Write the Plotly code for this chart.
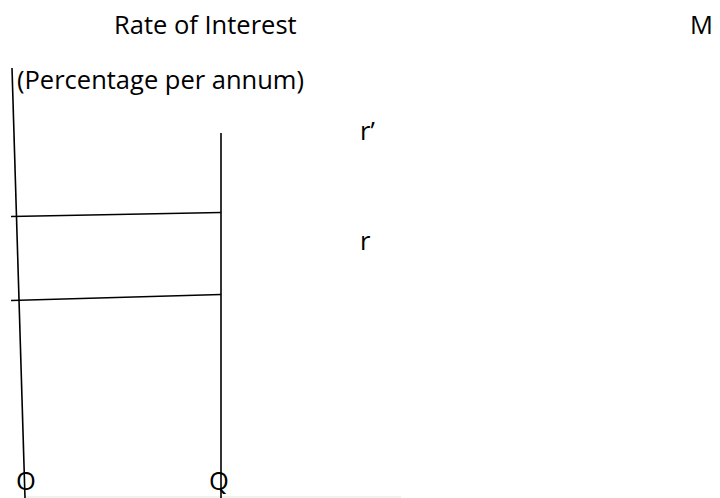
import plotly.graph_objects as go

# page is used as a pixel canvas: x to the right, y downwards
W, H = 720, 498

# vertical axis (slightly slanted) and the money supply line at Q
axis_x = [12, 25]
axis_y = [68, 498]
supply_x = [221, 221]
supply_y = [133, 498]

# the two interest rate levels r' and r
rate_hi_x = [11, 221]
rate_hi_y = [216.5, 212.5]
rate_lo_x = [11, 221]
rate_lo_y = [300.5, 294.5]

# faint base line
base_x = [25, 401]
base_y = [497, 497]

labels = ["Rate of Interest", "M", "(Percentage per annum)", "r\u2019", "r", "O", "Q"]
label_x = [114, 690, 17, 360, 360, 16, 209]
label_y = [24, 24, 79, 130, 240, 480, 480]

font = "'Open Sans', sans-serif"

fig = go.Figure()
black = dict(color="black", width=1.6)
fig.add_trace(go.Scatter(x=base_x, y=base_y, mode="lines", line=dict(color="#e3e3e3", width=1)))
fig.add_trace(go.Scatter(x=axis_x, y=axis_y, mode="lines", line=black))
fig.add_trace(go.Scatter(x=supply_x, y=supply_y, mode="lines", line=black))
fig.add_trace(go.Scatter(x=rate_hi_x, y=rate_hi_y, mode="lines", line=black))
fig.add_trace(go.Scatter(x=rate_lo_x, y=rate_lo_y, mode="lines", line=black))

for t, x, y in zip(labels, label_x, label_y):
    fig.add_annotation(x=x, y=y, text=t, showarrow=False, xanchor="left", yanchor="middle",
                       xshift=-2, font=dict(family=font, size=25.5, color="black"))

fig.update_xaxes(range=[0, W], visible=False, fixedrange=True)
fig.update_yaxes(range=[H, 0], visible=False, fixedrange=True)
fig.update_layout(width=W, height=H, margin=dict(l=0, r=0, t=0, b=0),
                  paper_bgcolor="white", plot_bgcolor="white", showlegend=False)
fig.write_html("out.html", config={"displayModeBar": False},
               post_script="document.body.style.margin='0';")
